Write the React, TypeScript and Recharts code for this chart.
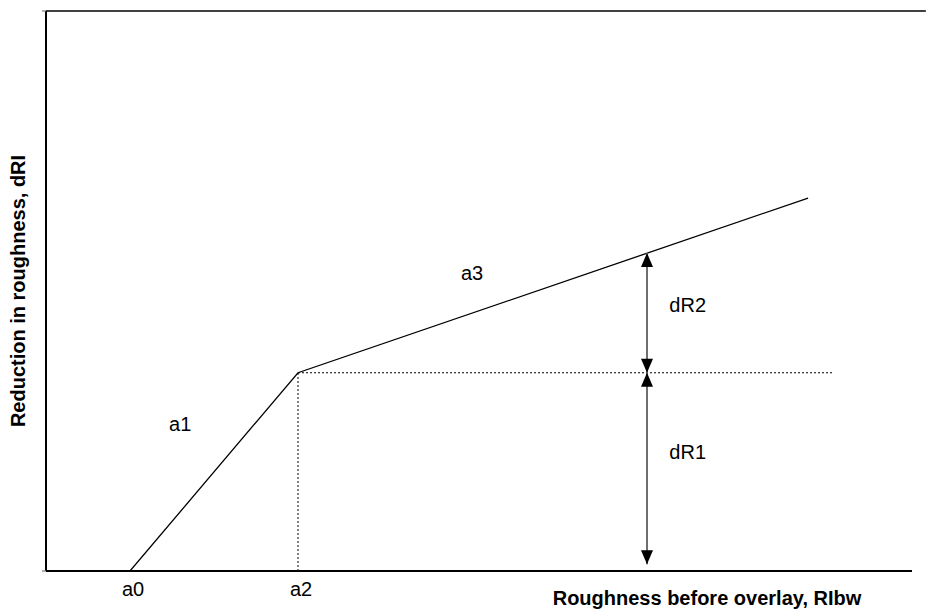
import { ComposedChart, Line, Scatter, XAxis, YAxis, ReferenceLine } from 'recharts'

// piecewise relation: a0 -> a2 (slope a1) -> end (slope a3)
const CURVE_X = [9.7, 29.1, 88.0]
const CURVE_Y = [0, 35.4, 66.6]

// dotted guides from the break point
const GUIDE_H = [{ x: 29.1, y: 35.4 }, { x: 90.8, y: 35.4 }]
const GUIDE_V = [{ x: 29.1, y: 0 }, { x: 29.1, y: 35.4 }]

// double arrows for dR2 and dR1
const ARROW_X = 69.4
const DR2_Y = [56.8, 35.4]
const DR1_Y = [35.4, 1.2]

const TICK_VALUES = [9.7, 29.1]
const TICK_LABELS = ['a0', 'a2']

const NOTE_TEXT = ['a1', 'a3', 'dR2', 'dR1']
const NOTE_X = [15.5, 49.2, 74.1, 74.1]
const NOTE_Y = [26.2, 53.2, 47.5, 21.3]

const FONT = "'Liberation Sans', Arial, sans-serif"

const curve = CURVE_X.map((x, i) => ({ x, y: CURVE_Y[i] }))
const dr2 = DR2_Y.map((y, i) => ({ x: ARROW_X, y, dir: i === 0 ? 'up' : 'down' }))
const dr1 = DR1_Y.map((y, i) => ({ x: ARROW_X, y, dir: i === 0 ? 'up' : 'down' }))
const notes = NOTE_TEXT.map((text, i) => ({ x: NOTE_X[i], y: NOTE_Y[i], text }))

function ArrowHead(props: any) {
  const { cx, cy, payload, index } = props
  if (cx == null || cy == null) return <g key={index} />
  const w = 6
  const h = 14
  const d =
    payload.dir === 'up'
      ? `M${cx},${cy} L${cx - w},${cy + h} L${cx + w},${cy + h} Z`
      : `M${cx},${cy} L${cx - w},${cy - h} L${cx + w},${cy - h} Z`
  return <path key={index} d={d} fill="#000" />
}

function NoteText(props: any) {
  const { cx, cy, payload } = props
  return (
    <text x={cx} y={cy} textAnchor="middle" dominantBaseline="central" fontSize={20} fontFamily={FONT} fill="#000">
      {payload.text}
    </text>
  )
}

export default function App() {
  return (
    <div style={{ position: 'absolute', left: 0, top: 0, background: '#fff' }}>
      <ComposedChart width={926} height={614} margin={{ top: 11, right: 14, bottom: 0, left: 0 }}>
        <XAxis
          type="number"
          dataKey="x"
          domain={[0, 100]}
          ticks={TICK_VALUES}
          tickFormatter={(v: number) => TICK_LABELS[TICK_VALUES.indexOf(v)] ?? ''}
          tickLine={false}
          tickMargin={5}
          axisLine={{ stroke: '#000', strokeWidth: 2 }}
          tick={{ fontSize: 20, fill: '#000', fontFamily: FONT, dx: 3 }}
          height={43}
          allowDataOverflow
          label={{
            value: 'Roughness before overlay, RIbw',
            position: 'center',
            dx: 228,
            dy: 5,
            fontSize: 20,
            fontWeight: 'bold',
            fill: '#000',
            fontFamily: FONT,
          }}
        />
        <YAxis
          type="number"
          dataKey="y"
          domain={[0, 100]}
          ticks={[0, 100]}
          tickFormatter={() => ''}
          tickSize={4}
          tickLine={{ stroke: '#666' }}
          axisLine={{ stroke: '#000', strokeWidth: 2 }}
          width={46}
          allowDataOverflow
          label={{
            value: 'Reduction in roughness, dRI',
            position: 'center',
            angle: -90,
            dx: -5,
            fontSize: 20,
            fontWeight: 'bold',
            fill: '#000',
            fontFamily: FONT,
          }}
        />
        <ReferenceLine
          segment={[{ x: 0, y: 100 }, { x: 101.6, y: 100 }]}
          stroke="#000"
          strokeWidth={1.5}
          ifOverflow="visible"
        />
        <Line data={GUIDE_H} dataKey="y" stroke="#000" strokeWidth={1} strokeDasharray="2 2" dot={false} isAnimationActive={false} />
        <Line data={GUIDE_V} dataKey="y" stroke="#000" strokeWidth={1} strokeDasharray="2 2" dot={false} isAnimationActive={false} />
        <Line data={curve} dataKey="y" type="linear" stroke="#000" strokeWidth={1.3} dot={false} isAnimationActive={false} />
        <Line data={dr2} dataKey="y" stroke="#6e6e6e" strokeWidth={2} dot={ArrowHead} activeDot={false} isAnimationActive={false} />
        <Line data={dr1} dataKey="y" stroke="#6e6e6e" strokeWidth={2} dot={ArrowHead} activeDot={false} isAnimationActive={false} />
        <Scatter data={notes} dataKey="y" shape={NoteText} isAnimationActive={false} />
      </ComposedChart>
    </div>
  )
}
